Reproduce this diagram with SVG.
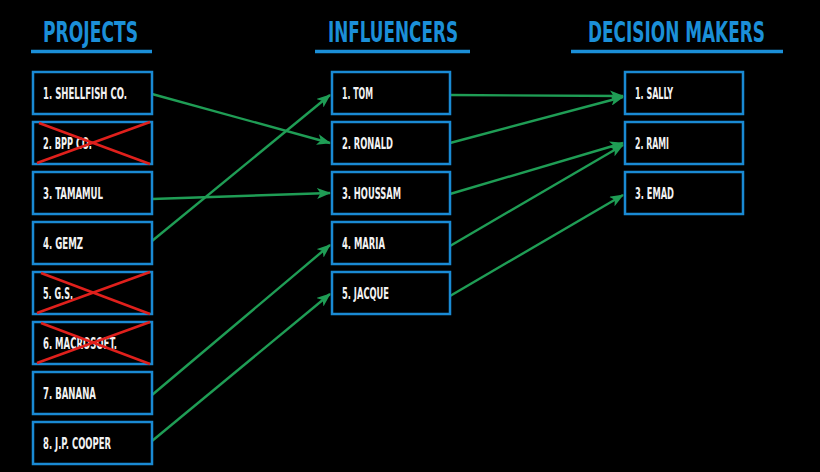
<svg xmlns="http://www.w3.org/2000/svg" width="820" height="472" viewBox="0 0 820 472">
<defs>
<style>
.hdr{font-family:"Liberation Sans Narrow","DejaVu Sans Condensed","Liberation Sans",sans-serif;font-weight:bold;font-size:28px;fill:#1b8fd8}
.ul{stroke:#1b8fd8;stroke-width:3.5}
.box{fill:#000;stroke:#1a8ad4;stroke-width:2.5}
.lbl{font-family:"Liberation Sans Narrow","DejaVu Sans Condensed","Liberation Sans",sans-serif;font-weight:bold;font-size:16.5px;fill:#f2f2f2}
.x{stroke:#e0201c;stroke-width:2.5}
.c{stroke:#1f9d55;stroke-width:2.4;fill:none;marker-end:url(#ah)}
</style>
<marker id="ah" viewBox="0 0 14 11" refX="13" refY="5.5" markerWidth="14" markerHeight="11" markerUnits="userSpaceOnUse" orient="auto">
<path d="M0,0 L14,5.5 L0,11 L3.5,5.5 Z" fill="#1f9d55"/>
</marker>
</defs>
<rect width="820" height="472" fill="#000"/>
<g id="headers">
<text class="hdr" x="43" y="42" textLength="95" lengthAdjust="spacingAndGlyphs">PROJECTS</text>
<line class="ul" x1="31" y1="51.5" x2="152" y2="51.5"/>
<text class="hdr" x="328" y="42" textLength="130" lengthAdjust="spacingAndGlyphs">INFLUENCERS</text>
<line class="ul" x1="315" y1="51.5" x2="470" y2="51.5"/>
<text class="hdr" x="588" y="42" textLength="177" lengthAdjust="spacingAndGlyphs">DECISION MAKERS</text>
<line class="ul" x1="571" y1="51.5" x2="783" y2="51.5"/>
</g>
<g id="connectors">
<line class="c" x1="152" y1="94" x2="330" y2="143"/>
<line class="c" x1="152" y1="199" x2="330" y2="193"/>
<line class="c" x1="152" y1="241" x2="330" y2="95"/>
<line class="c" x1="152" y1="395" x2="330" y2="245"/>
<line class="c" x1="152" y1="441" x2="330" y2="294"/>
<line class="c" x1="450" y1="95" x2="623" y2="96"/>
<line class="c" x1="450" y1="143" x2="623" y2="97"/>
<line class="c" x1="450" y1="194" x2="623" y2="143"/>
<line class="c" x1="450" y1="246" x2="623" y2="145"/>
<line class="c" x1="450" y1="296" x2="623" y2="195"/>
</g>
<g id="p1"><rect class="box" x="33" y="72" width="119" height="42"/><text class="lbl" x="43" y="99" textLength="84" lengthAdjust="spacingAndGlyphs">1. SHELLFISH CO.</text></g>
<g id="p2"><rect class="box" x="33" y="122" width="119" height="42"/><text class="lbl" x="43" y="149" textLength="49" lengthAdjust="spacingAndGlyphs">2. BPP CO.</text><line class="x" x1="39" y1="123" x2="150" y2="164"/><line class="x" x1="37" y1="163" x2="150" y2="122"/></g>
<g id="p3"><rect class="box" x="33" y="172" width="119" height="42"/><text class="lbl" x="43" y="199" textLength="60" lengthAdjust="spacingAndGlyphs">3. TAMAMUL</text></g>
<g id="p4"><rect class="box" x="33" y="222" width="119" height="42"/><text class="lbl" x="43" y="249" textLength="40" lengthAdjust="spacingAndGlyphs">4. GEMZ</text></g>
<g id="p5"><rect class="box" x="33" y="272" width="119" height="42"/><text class="lbl" x="43" y="299" textLength="30" lengthAdjust="spacingAndGlyphs">5. G.S.</text><line class="x" x1="41" y1="273" x2="150" y2="314"/><line class="x" x1="37" y1="313" x2="150" y2="272"/></g>
<g id="p6"><rect class="box" x="33" y="322" width="119" height="42"/><text class="lbl" x="43" y="349" textLength="74" lengthAdjust="spacingAndGlyphs">6. MACROSOFT.</text><line class="x" x1="41" y1="323" x2="150" y2="364"/><line class="x" x1="37" y1="363" x2="150" y2="322"/></g>
<g id="p7"><rect class="box" x="33" y="372" width="119" height="42"/><text class="lbl" x="43" y="399" textLength="53" lengthAdjust="spacingAndGlyphs">7. BANANA</text></g>
<g id="p8"><rect class="box" x="33" y="422" width="119" height="42"/><text class="lbl" x="43" y="449" textLength="68" lengthAdjust="spacingAndGlyphs">8. J.P. COOPER</text></g>
<g id="i1"><rect class="box" x="332" y="72" width="118" height="42"/><text class="lbl" x="342" y="99" textLength="31" lengthAdjust="spacingAndGlyphs">1. TOM</text></g>
<g id="i2"><rect class="box" x="332" y="122" width="118" height="42"/><text class="lbl" x="342" y="149" textLength="51" lengthAdjust="spacingAndGlyphs">2. RONALD</text></g>
<g id="i3"><rect class="box" x="332" y="172" width="118" height="42"/><text class="lbl" x="342" y="199" textLength="59" lengthAdjust="spacingAndGlyphs">3. HOUSSAM</text></g>
<g id="i4"><rect class="box" x="332" y="222" width="118" height="42"/><text class="lbl" x="342" y="249" textLength="43" lengthAdjust="spacingAndGlyphs">4. MARIA</text></g>
<g id="i5"><rect class="box" x="332" y="272" width="118" height="42"/><text class="lbl" x="342" y="299" textLength="47" lengthAdjust="spacingAndGlyphs">5. JACQUE</text></g>
<g id="d1"><rect class="box" x="625" y="72" width="118" height="42"/><text class="lbl" x="635" y="99" textLength="38" lengthAdjust="spacingAndGlyphs">1. SALLY</text></g>
<g id="d2"><rect class="box" x="625" y="122" width="118" height="42"/><text class="lbl" x="635" y="149" textLength="34" lengthAdjust="spacingAndGlyphs">2. RAMI</text></g>
<g id="d3"><rect class="box" x="625" y="172" width="118" height="42"/><text class="lbl" x="635" y="199" textLength="39" lengthAdjust="spacingAndGlyphs">3. EMAD</text></g>
</svg>
